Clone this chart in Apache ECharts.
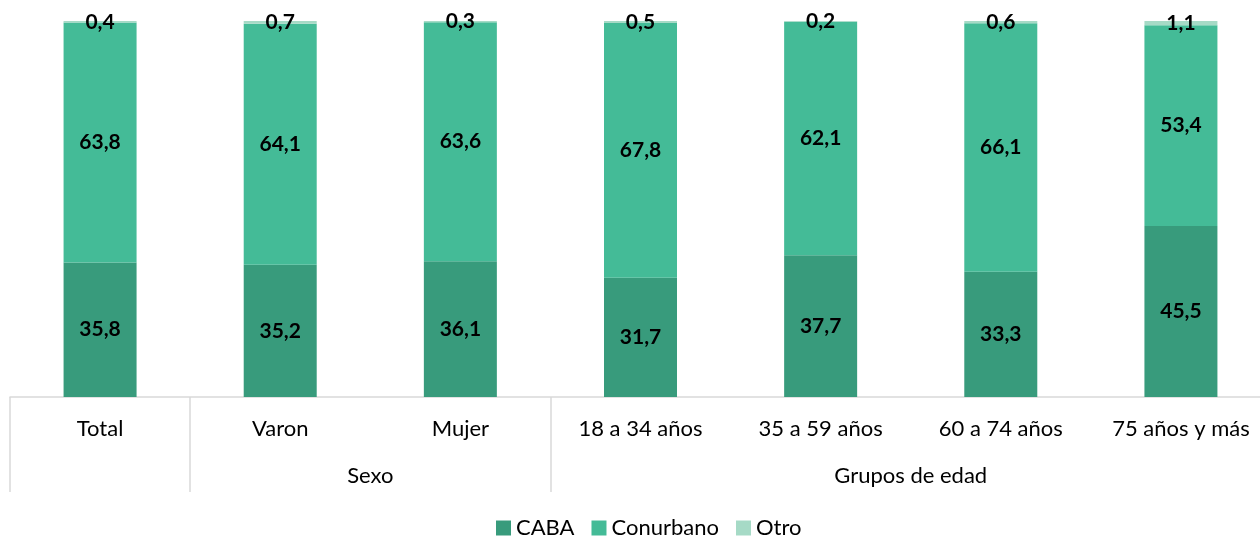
<!DOCTYPE html>
<html>
<head>
<meta charset="utf-8">
<script src="https://cdn.jsdelivr.net/npm/echarts@6/dist/echarts.min.js"></script>
<style>
  html, body { margin: 0; padding: 0; background: #fff; overflow: hidden; }
  #wrap { width: 1260px; height: 536px; overflow: hidden; }
  #chart { width: 1274px; height: 536px; }
</style>
</head>
<body>
<div id="wrap"><div id="chart"></div></div>
<script>
// datos
var categorias = ["Total", "Varon", "Mujer", "18 a 34 años", "35 a 59 años", "60 a 74 años", "75 años y más"];
var caba = [35.8, 35.2, 36.1, 31.7, 37.7, 33.3, 45.5];
var conurbano = [63.8, 64.1, 63.6, 67.8, 62.1, 66.1, 53.4];
var otro = [0.4, 0.7, 0.3, 0.5, 0.2, 0.6, 1.1];
// grupos: posición (en unidades de categoría) y nombre
var grupos = { 2: "Sexo", 5: "Grupos de edad" };
var separadores = [0, 1, 3];

var myChart = echarts.init(document.getElementById("chart"));
var fuente = "Lato";

function etiqueta(v) {
  return v.value.toFixed(1).replace(".", ",");
}

var option = {
  textStyle: { fontFamily: fuente },
  animation: false,
  legend: {
    top: 512,
    left: 491,
    itemWidth: 15,
    itemHeight: 15,
    itemGap: 17,
    icon: "rect",
    textStyle: { color: "#000", fontSize: 22, fontFamily: fuente },
    data: ["CABA", "Conurbano", "Otro"],
  },
  grid: {
    left: 10,
    right: 0,
    top: 21,
    bottom: 139,
    containLabel: false,
  },
  xAxis: [
    {
      type: "category",
      data: categorias,
      axisLine: { lineStyle: { color: "#d9d9d9", width: 1.5 } },
      axisTick: {
        show: true,
        length: 95,
        lineStyle: { color: "#d9d9d9", width: 1.5 },
        interval: function (i) {
          return separadores.indexOf(i) >= 0;
        },
      },
      axisLabel: {
        color: "#000",
        fontSize: 22,
        margin: 21,
        interval: 0,
      },
    },
    {
      type: "value",
      min: 0,
      max: 7,
      interval: 1,
      position: "bottom",
      axisLine: { show: false },
      axisTick: { show: false },
      splitLine: { show: false },
      axisLabel: {
        color: "#000",
        fontSize: 22,
        margin: 68,
        formatter: function (v) {
          return grupos[v] || "";
        },
      },
    },
  ],
  yAxis: {
    type: "value",
    min: 0,
    max: 100,
    show: false,
  },
  series: [
    {
      name: "CABA",
      type: "bar",
      stack: "total",
      barWidth: 73,
      data: caba,
      itemStyle: { color: "#389b7c" },
      label: { show: true, position: "inside", color: "#000", fontWeight: "bold", fontSize: 21, formatter: etiqueta },
    },
    {
      name: "Conurbano",
      type: "bar",
      stack: "total",
      data: conurbano,
      itemStyle: { color: "#44bb97" },
      label: { show: true, position: "inside", color: "#000", fontWeight: "bold", fontSize: 21, formatter: etiqueta },
    },
    {
      name: "Otro",
      type: "bar",
      stack: "total",
      data: otro,
      itemStyle: { color: "#a6dac6" },
      label: { show: true, position: "inside", color: "#000", fontWeight: "bold", fontSize: 21, formatter: etiqueta },
    },
  ],
};

myChart.setOption(option);
window.addEventListener("resize", function () {
  myChart.resize();
});
</script>
</body>
</html>
